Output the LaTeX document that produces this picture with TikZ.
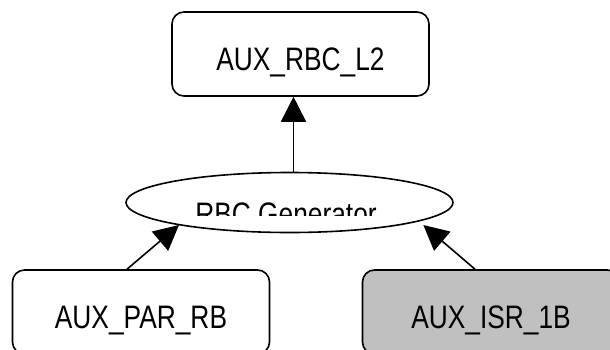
\documentclass[tikz,border=0pt]{standalone}
\usepackage{fontspec}
\newfontfamily\boxfont[FakeStretch=0.81]{Liberation Sans}
\usetikzlibrary{arrows.meta,shapes.geometric}
\definecolor{isrgray}{RGB}{192,192,192}

\begin{document}
\begin{tikzpicture}[x=1pt, y=-1pt,
		box/.style={draw, line width=1.6pt, rounded corners=12pt,
			minimum width=257pt, minimum height=84pt, inner sep=0pt,
			text height=33pt, text depth=0pt,
			font=\boxfont\fontsize{32.5}{36}\selectfont},
		gen/.style={draw, ellipse, line width=1.6pt,
			minimum width=327pt, minimum height=60pt, inner sep=0pt},
		lbl/.style={font=\boxfont\fontsize{32.5}{36}\selectfont, inner sep=0pt},
		dep/.style={line width=1.6pt, -{Triangle[length=25pt,width=25pt]}}]
		\clip (0,0) rectangle (610,349);
		\node[box] (l2) at (300.5,54) {AUX\_RBC\_L2};
		\node[gen] (rbcgen) at (289.5,202.5) {};
		\begin{scope}
		\clip (100,190) rectangle (480,215);
		\node[lbl, anchor=base] (rbcgentext) at (286,225) {RBC Generator};
		\end{scope}
		\node[box] (parrb) at (141,312) {AUX\_PAR\_RB};
		\node[box, fill=isrgray] (isr) at (491,312) {AUX\_ISR\_1B};
		\draw[dep] ([xshift=4pt]rbcgen.north) -- ([xshift=-7pt]l2.south);
		\draw[dep] ([xshift=-14pt]parrb.north) -- ([shift={(-110.5pt,-22.5pt)}]rbcgen.center);
		\draw[dep] ([xshift=-16pt]isr.north) -- ([shift={(133.8pt,-22.5pt)}]rbcgen.center);
		\end{tikzpicture}
\end{document}
